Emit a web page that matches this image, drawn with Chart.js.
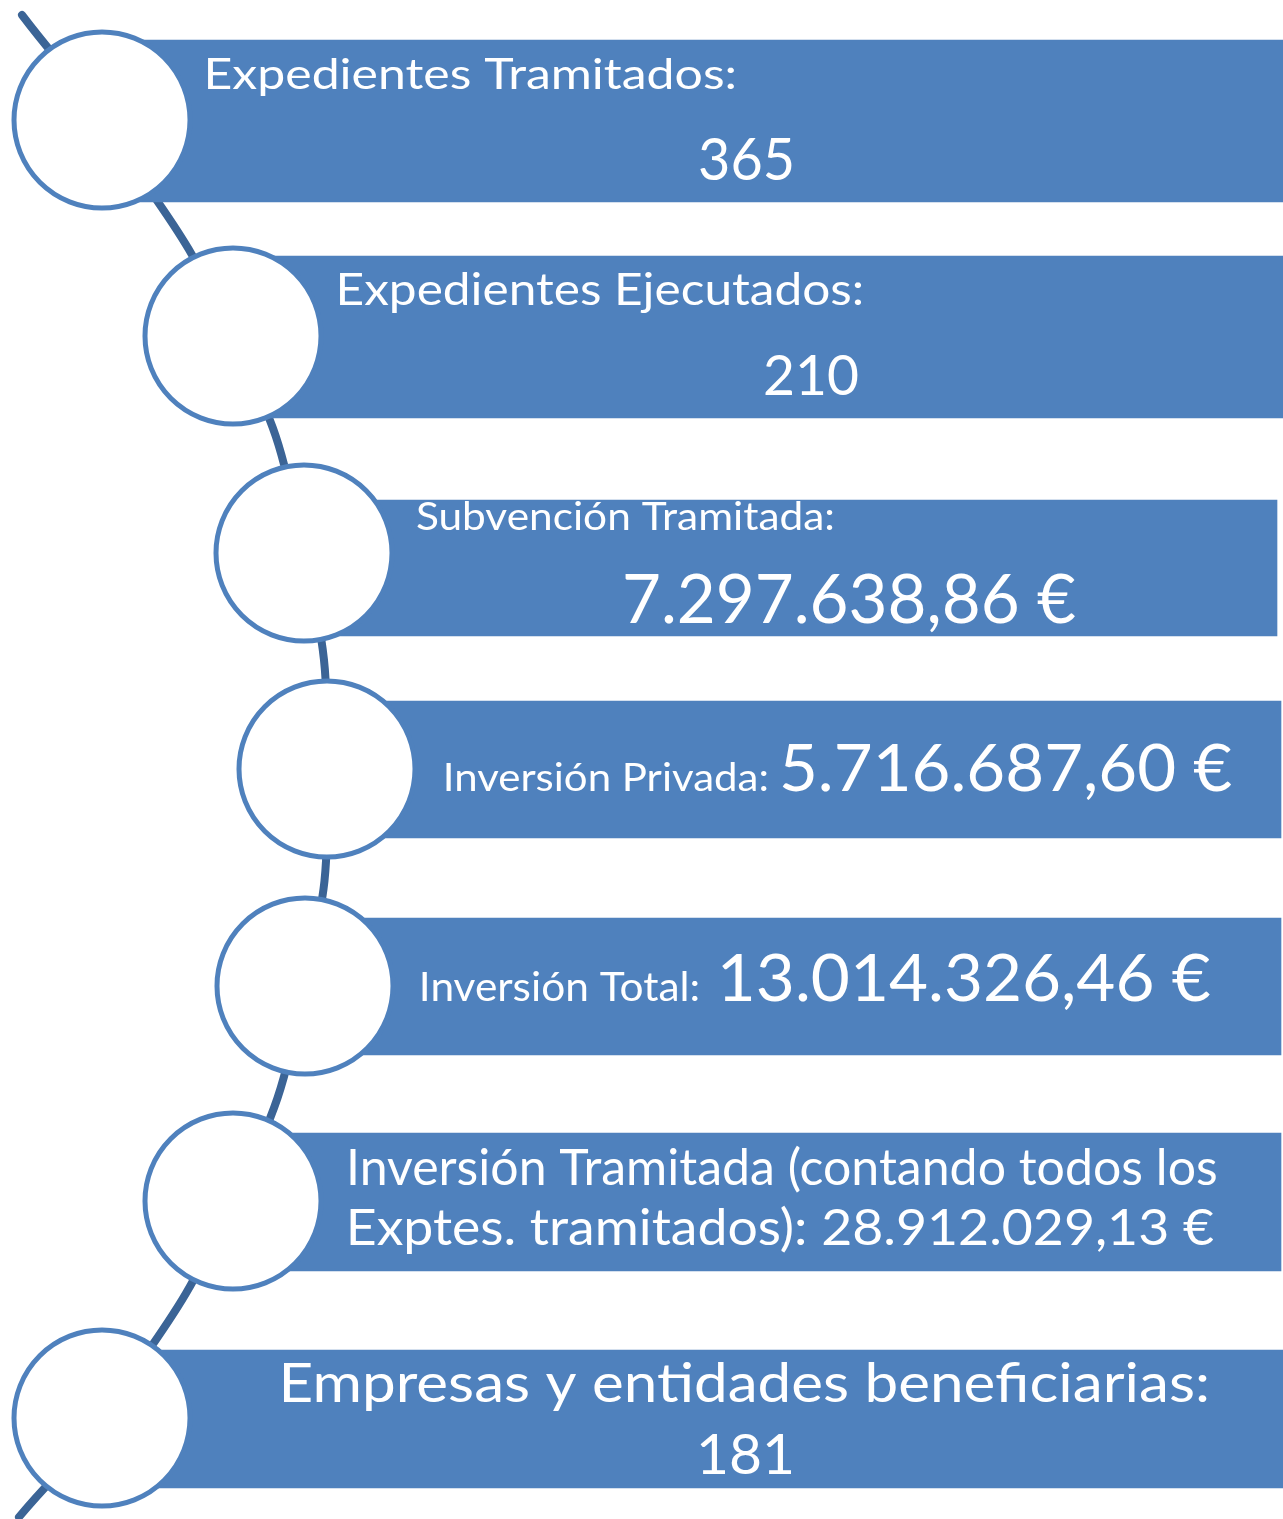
<!DOCTYPE html>
<html>
<head>
<meta charset="utf-8">
<title>Resumen expedientes</title>
<script src="https://cdn.jsdelivr.net/npm/chart.js@4/dist/chart.umd.min.js"></script>
<style>
    html, body { margin: 0; padding: 0; background: #ffffff; }
    #wrap { width: 1283px; height: 1519px; }
</style>
</head>
<body>
<div id="wrap"><canvas id="resumenChart" width="1283" height="1519"></canvas></div>
<script>
// Chart content
const categories = [
    'Expedientes Tramitados:',
    'Expedientes Ejecutados:',
    'Subvención Tramitada:',
    'Inversión Privada:',
    'Inversión Total:',
    'Inversión Tramitada (contando todos los Exptes. tramitados):',
    'Empresas y entidades beneficiarias:'
];
const values = ['365', '210', '7.297.638,86 €', '5.716.687,60 €', '13.014.326,46 €', '28.912.029,13 €', '181'];

// Layout (plot units == pixels, y grows downward)
const circleX = [102, 233, 304, 327, 305, 233, 102];
const circleY = [120, 336, 553, 769, 986, 1201, 1418];
const barTop = [40, 256, 500, 701, 918, 1133, 1350];
const barBottom = [202, 418, 636, 838, 1055, 1271, 1488];
const barRight = [1283, 1283, 1277, 1281, 1281, 1281, 1283];
const lineStart = { x: 22, y: 15 };
const lineEnd = { x: 19, y: 1517 };

// text slots: [row, part, left, right, baseline, fontSize]
const textSlots = [
    [0, 'label', 207, 735, 89, 43], [0, 'value', 700, 792, 180, 59],
    [1, 'label', 340, 862, 305, 44], [1, 'value', 765, 858, 395, 57],
    [2, 'label', 417, 833, 530, 39], [2, 'value', 625, 1075, 623, 67],
    [3, 'label', 446, 767, 791, 39], [3, 'value', 782, 1232, 791, 66],
    [4, 'label', 422, 698, 1001, 40], [4, 'value', 722, 1210, 1001, 65],
    [5, 'line0', 350, 1216, 1185, 50], [5, 'line1', 350, 1214, 1245, 50],
    [6, 'label', 284, 1207, 1402, 55], [6, 'value', 700, 792, 1474, 57]
];

const BLUE = '#4f81bd';
const DARK_BLUE = '#3b6496';

/**
 * Splits a long label in two lines before "Exptes."
 */
function labelLines(i) {
    const s = categories[i];
    const k = s.indexOf('Exptes.');
    return k > 0 ? [s.slice(0, k).trim(), s.slice(k)] : [s];
}

function slotText(row, part) {
    if (part === 'label') return categories[row];
    if (part === 'value') return values[row];
    if (part === 'line0') return labelLines(row)[0];
    return labelLines(row)[1] + ' ' + values[row];
}

const textPlugin = {
    id: 'rowText',
    afterDatasetsDraw(chart) {
        const ctx = chart.ctx;
        const xs = chart.scales.x, ys = chart.scales.y;
        ctx.save();
        ctx.fillStyle = '#ffffff';
        ctx.textAlign = 'left';
        ctx.textBaseline = 'alphabetic';
        textSlots.forEach(([row, part, x0, x1, base, size]) => {
            const text = slotText(row, part);
            ctx.font = size + 'px Lato, "Open Sans", sans-serif';
            const m = ctx.measureText(text);
            const inkW = m.actualBoundingBoxLeft + m.actualBoundingBoxRight;
            const left = xs.getPixelForValue(x0);
            const right = xs.getPixelForValue(x1);
            const sx = (right - left) / inkW;
            ctx.save();
            ctx.translate(left + m.actualBoundingBoxLeft * sx, ys.getPixelForValue(base));
            ctx.scale(sx, 1);
            ctx.fillText(text, 0, 0);
            ctx.restore();
        });
        ctx.restore();
    }
};

// one bar dataset per row so each keeps its own thickness
const barSets = categories.map((c, i) => ({
    type: 'bar',
    label: c,
    indexAxis: 'y',
    grouped: false,
    data: [{ x: [circleX[i], barRight[i]], y: (barTop[i] + barBottom[i]) / 2 }],
    barThickness: barBottom[i] - barTop[i],
    backgroundColor: BLUE,
    borderWidth: 0,
    order: 2
}));

const linePoints = [lineStart]
    .concat(circleX.map((x, i) => ({ x: x, y: circleY[i] })))
    .concat([lineEnd]);

new Chart(document.getElementById('resumenChart'), {
    data: {
        datasets: [
            {
                type: 'line',
                label: 'linea',
                data: linePoints,
                borderColor: DARK_BLUE,
                borderWidth: 8,
                borderCapStyle: 'round',
                tension: 0.5,
                pointRadius: 0,
                fill: false,
                clip: false,
                order: 3
            },
            ...barSets,
            {
                type: 'scatter',
                label: 'circulos',
                data: circleX.map((x, i) => ({ x: x, y: circleY[i] })),
                pointRadius: 88,
                pointHoverRadius: 88,
                pointBackgroundColor: '#ffffff',
                pointBorderColor: BLUE,
                pointBorderWidth: 5,
                clip: false,
                order: 1
            }
        ]
    },
    options: {
        responsive: false,
        animation: false,
        events: [],
        layout: { padding: 0, autoPadding: false },
        plugins: {
            legend: { display: false },
            tooltip: { enabled: false }
        },
        scales: {
            x: { type: 'linear', min: 0, max: 1283, offset: false, grace: 0, display: false },
            y: { type: 'linear', min: 0, max: 1519, offset: false, grace: 0, reverse: true, display: false }
        }
    },
    plugins: [textPlugin]
});
</script>
</body>
</html>
